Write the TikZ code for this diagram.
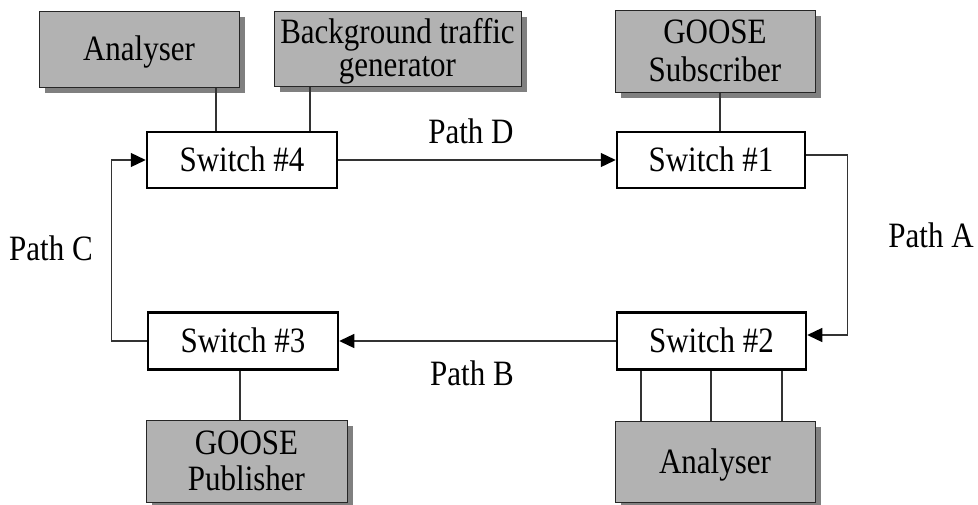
\documentclass[tikz,border=0pt]{standalone}
\usepackage{fontspec}
\setmainfont{Liberation Serif}
\usepackage{graphicx}
\usetikzlibrary{shadows,arrows.meta}
\newcommand\vt[1]{\scalebox{1}[1.15]{\begin{tabular}{@{}c@{}}#1\end{tabular}}}
\newcommand\bt[1]{\raisebox{-4pt}[\height][\depth]{\vt{#1}}}
\newcommand\lt[1]{\scalebox{1}[1.15]{#1}}
\begin{document}
\begin{tikzpicture}[x=1pt,y=-1pt,
 every node/.style={font=\fontsize{31}{33}\selectfont, inner sep=0pt},
 gbox/.style={draw=black!85, line width=1pt, fill=gray!60,
   drop shadow={shadow xshift=6pt, shadow yshift=-6pt, fill=black!50, opacity=1}},
 swbox/.style={draw=black, line width=2.5pt, fill=white},
 conn/.style={draw=black!80, line width=1.3pt},
 arr/.style={conn, -{Triangle[length=15pt,width=14pt,color=black]}},
]
\clip (0,0) rectangle (978,504);
\fill[white] (0,0) rectangle (978,504);
% device boxes
\node[gbox, minimum width=200, minimum height=76] (an1) at (139,49) {\bt{Analyser}};
\node[gbox, minimum width=247, minimum height=75] (bg) at (397.5,48.5) {\bt{Background traffic\\[-5pt] generator}};
\node[gbox, minimum width=200, minimum height=82] (sub) at (715,51) {\bt{GOOSE\\Subscriber}};
\node[gbox, minimum width=201, minimum height=82] (pub) at (246.5,461) {\bt{GOOSE\\[-1pt]Publisher}};
\node[gbox, minimum width=200, minimum height=81] (an2) at (715,461.5) {\bt{Analyser}};
% switches
\node[swbox, minimum width=190, minimum height=56] (sw4) at (242,160) {\bt{Switch \#4}};
\node[swbox, minimum width=188, minimum height=56] (sw1) at (711,160) {\bt{Switch \#1}};
\node[swbox, minimum width=190, minimum height=57] (sw3) at (243,341) {\bt{Switch \#3}};
\node[swbox, minimum width=189, minimum height=57] (sw2) at (711.5,341) {\bt{Switch \#2}};
% links to devices
\draw[conn] (an1.south -| 216,0) -- (sw4.north -| 216,0);
\draw[conn] (bg.south -| 310,0) -- (sw4.north -| 310,0);
\draw[conn] (sub.south -| 720,0) -- (sw1.north -| 720,0);
\draw[conn] (sw3.south -| 240,0) -- (pub.north -| 240,0);
\draw[conn] (sw2.south -| 641,0) -- (an2.north -| 641,0);
\draw[conn] (sw2.south -| 711,0) -- (an2.north -| 711,0);
\draw[conn] (sw2.south -| 782,0) -- (an2.north -| 782,0);
% ring paths
\draw[arr] (sw4.east) -- (sw1.west);
\draw[arr] ([yshift=5pt]sw1.east) -- ++(41,0) |- ([yshift=6pt]sw2.east);
\draw[arr] (sw2.west) -- (sw3.east);
\draw[arr] (sw3.west) -- ++(-35,0) |- (sw4.west);
% labels
\node[anchor=base] (pD) at (471,143) {\lt{Path D}};
\node[anchor=base] (pA) at (931,247) {\lt{Path A}};
\node[anchor=base] (pB) at (472,385) {\lt{Path B}};
\node[anchor=base] (pC) at (51,260) {\lt{Path C}};
\end{tikzpicture}
\end{document}
